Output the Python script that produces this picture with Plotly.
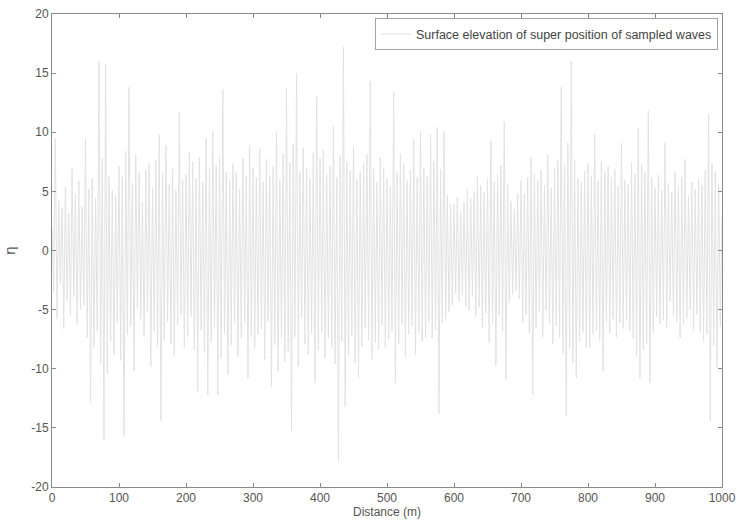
import numpy as np
import plotly.graph_objects as go

# Surface elevation extremes (alternating crest / trough), one value every 2.5 m,
# grouped in 100 m stretches of the distance axis.
eta_000 = [2.0, -3.5, 9.5, -5.8, 4.2, -2.8, 3.6, -6.6, 5.4, -4.2,
           3.1, -5.5, 6.9, -3.9, 4.8, -6.2, 5.9, -5.0, 3.7, -4.6,
           9.5, -7.4, 5.2, -12.9, 6.1, -8.2, 4.4, -6.8, 16.0, -9.6,
           7.8, -16.0, 15.8, -10.4, 6.3, -7.7, 5.1, -8.8, 4.6, -6.1]
eta_100 = [7.1, -9.3, 6.2, -15.7, 8.4, -7.1, 13.8, -6.4, 5.7, -10.2,
           8.1, -4.9, 6.6, -5.8, 4.1, -7.3, 6.8, -5.2, 7.4, -9.8,
           5.3, -6.9, 7.6, -8.1, 9.8, -14.4, 6.5, -7.6, 8.9, -6.0,
           5.6, -7.9, 6.9, -8.9, 5.1, -6.3, 11.7, -5.4, 6.0, -8.2]
eta_200 = [6.4, -7.2, 8.3, -5.6, 7.5, -8.4, 6.1, -11.9, 7.9, -6.7,
           5.8, -8.6, 9.5, -12.2, 6.9, -7.8, 10.1, -6.5, 7.2, -12.2,
           8.0, -9.1, 13.6, -7.0, 6.6, -10.5, 5.9, -8.0, 7.3, -6.2,
           6.7, -9.0, 5.2, -7.4, 7.8, -6.1, 6.3, -10.8, 8.9, -7.3]
eta_300 = [7.0, -8.3, 6.2, -7.1, 8.6, -6.6, 5.8, -9.2, 7.7, -6.0,
           6.3, -11.5, 7.1, -8.0, 10.1, -10.2, 6.0, -7.4, 8.2, -9.4,
           13.8, -8.6, 7.4, -15.2, 9.0, -7.3, 15.0, -9.8, 6.6, -5.7,
           8.7, -7.9, 7.0, -8.8, 6.1, -7.0, 8.3, -11.2, 13.1, -8.4]
eta_400 = [7.8, -6.9, 8.5, -9.1, 6.4, -7.4, 7.1, -8.3, 10.5, -9.6,
           6.2, -17.9, 8.0, -7.7, 17.2, -13.2, 7.5, -8.9, 6.8, -7.2,
           8.8, -9.5, 6.0, -10.8, 6.7, -8.1, 7.4, -6.5, 8.1, -7.6,
           14.3, -9.2, 6.9, -7.8, 5.8, -8.4, 7.9, -6.3, 7.0, -8.2]
eta_500 = [6.1, -7.5, 5.4, -6.8, 13.4, -11.2, 6.6, -7.9, 8.2, -6.2,
           7.3, -9.0, 5.9, -7.1, 6.8, -6.4, 9.4, -8.8, 6.2, -6.9,
           10.1, -7.7, 7.0, -7.4, 6.3, -6.0, 9.8, -7.4, 7.5, -6.7,
           10.4, -13.8, 6.9, -6.1, 10.1, -5.8, 4.7, -5.2, 3.9, -4.6]
eta_600 = [3.9, -3.6, 4.5, -4.3, 3.2, -3.8, 4.1, -4.7, 5.2, -5.1,
           4.4, -3.9, 5.0, -5.6, 6.3, -4.8, 5.5, -6.6, 4.9, -5.3,
           6.0, -7.8, 9.3, -6.2, 5.8, -9.7, 6.4, -5.5, 7.2, -6.8,
           10.9, -10.9, 5.6, -4.4, 4.2, -3.7, 3.5, -3.4, 4.8, -4.1]
eta_700 = [5.9, -6.1, 4.8, -5.4, 6.2, -7.0, 7.9, -12.2, 6.5, -6.6,
           5.9, -5.2, 6.8, -7.3, 5.5, -5.1, 8.1, -6.2, 5.3, -7.9,
           6.9, -6.4, 7.6, -7.4, 13.8, -8.7, 7.2, -14.0, 9.1, -8.3,
           16.0, -9.5, 7.7, -10.8, 6.1, -7.7, 5.8, -6.9, 6.7, -8.2]
eta_800 = [7.4, -8.2, 6.3, -7.1, 9.8, -6.8, 5.9, -7.6, 7.6, -10.2,
           6.7, -6.0, 7.1, -7.0, 6.2, -5.8, 6.9, -7.3, 5.4, -6.1,
           9.1, -6.6, 6.0, -5.9, 5.6, -6.8, 7.4, -7.5, 6.5, -9.0,
           10.4, -10.8, 7.3, -8.4, 6.6, -7.9, 11.8, -11.2, 6.2, -7.0]
eta_900 = [5.3, -5.6, 6.4, -6.2, 5.1, -5.9, 9.1, -6.5, 5.7, -4.3,
           4.9, -5.5, 6.7, -6.0, 5.4, -7.4, 6.2, -6.3, 7.7, -5.8,
           4.6, -5.0, 5.8, -6.7, 5.2, -5.4, 6.1, -6.9, 5.5, -7.6,
           6.8, -7.1, 11.5, -14.4, 7.4, -8.0, 6.7, -9.9, 5.6, -6.4,
           3.0]

x_step = 2.5  # m between successive extremes

y_ticks = [20, 15, 10, 5, 0, -5, -10, -15, -20]
y_tick_labels = ["20", "15", "10", "5", "0", "-5", "-10", "-15", "-20"]
x_ticks = [0, 100, 200, 300, 400, 500, 600, 700, 800, 900, 1000]
x_tick_labels = [str(v) for v in x_ticks]

eta = np.array(eta_000 + eta_100 + eta_200 + eta_300 + eta_400 +
               eta_500 + eta_600 + eta_700 + eta_800 + eta_900)
distance = np.arange(len(eta)) * x_step

font_family = "Liberation Sans, Arial, Helvetica, sans-serif"
axis_color = "#8a8a8a"
text_color = "#555555"

fig = go.Figure()
fig.add_trace(go.Scatter(
    x=distance, y=eta, mode="lines",
    line=dict(color="#e2e2e2", width=1),
    name="Surface elevation of super position of sampled waves",
))

axis_common = dict(
    showgrid=False, zeroline=False, automargin=False,
    showline=True, linecolor=axis_color, linewidth=1, mirror="ticks",
    ticks="inside", ticklen=4, tickcolor=axis_color,
    tickfont=dict(family=font_family, size=12, color=text_color),
)

fig.update_layout(
    width=737, height=521,
    margin=dict(l=52, r=15, t=14, b=34),
    paper_bgcolor="white", plot_bgcolor="white",
    font=dict(family=font_family, color=text_color),
    showlegend=True,
    legend=dict(
        x=0.994, y=0.991, xanchor="right", yanchor="top",
        bgcolor="white", bordercolor="#a0a0a0", borderwidth=1,
        font=dict(family=font_family, size=12.5, color="#444444"),
        itemwidth=30, tracegroupgap=0,
    ),
    xaxis=dict(
        range=[0, 1000], tickvals=x_ticks, ticktext=x_tick_labels,
        title=dict(text="Distance (m)", standoff=2,
                   font=dict(family=font_family, size=12, color=text_color)),
        **axis_common,
    ),
    yaxis=dict(
        range=[-20, 20], tickvals=y_ticks, ticktext=y_tick_labels,
        title=dict(text="η", standoff=12,
                   font=dict(family=font_family, size=15, color=text_color)),
        **axis_common,
    ),
)

fig.write_html("out.html")
